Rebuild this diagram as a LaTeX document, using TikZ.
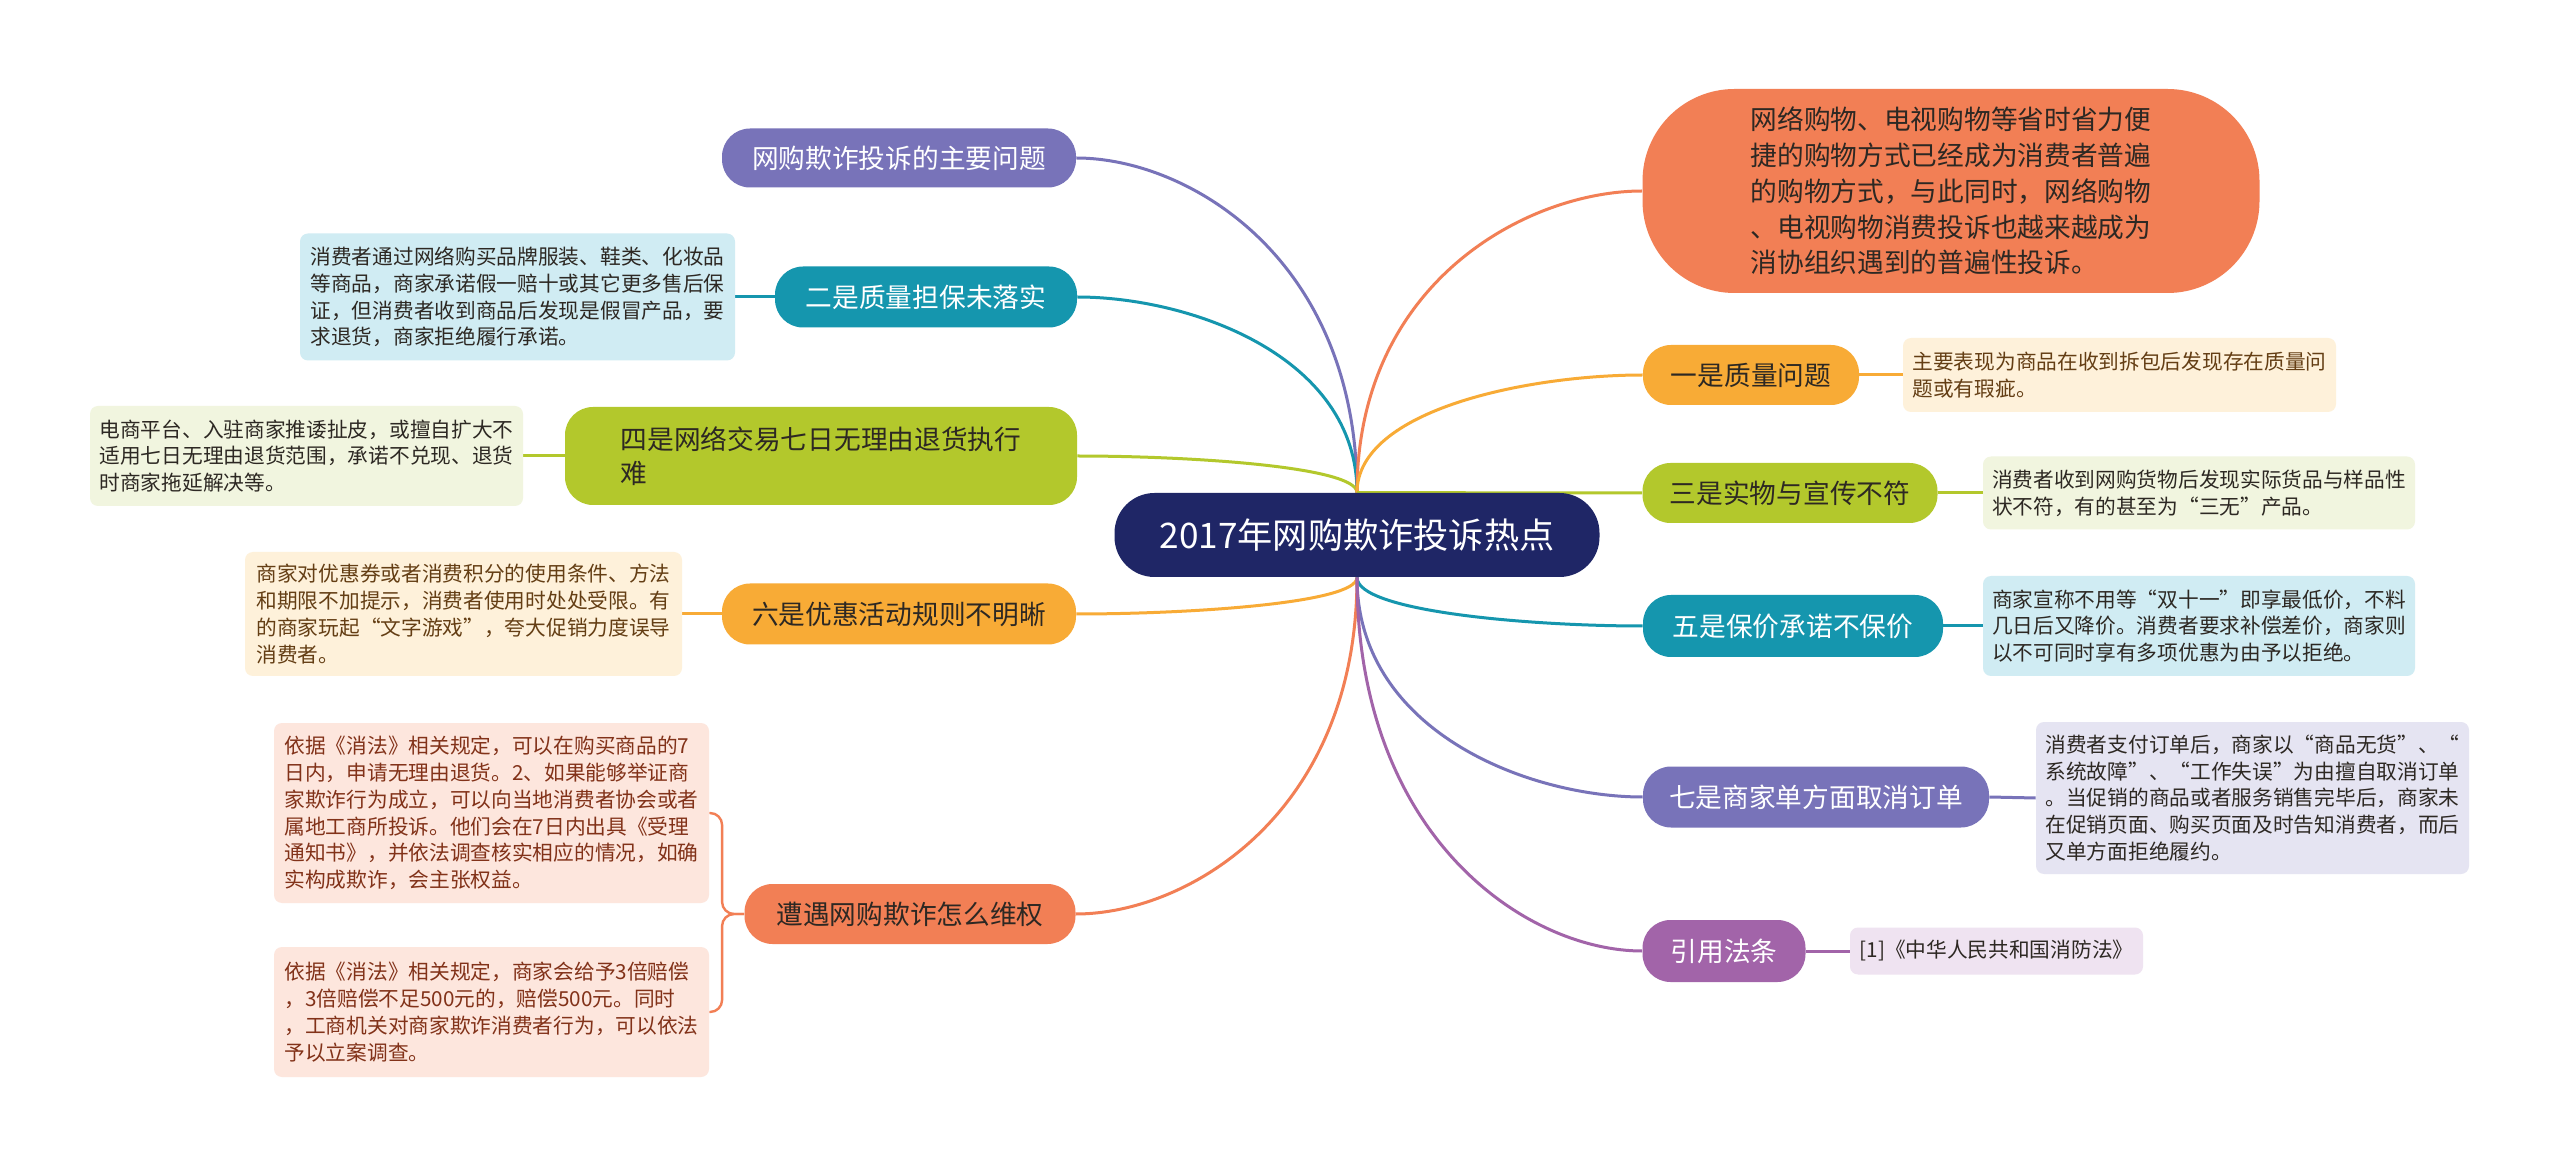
\documentclass[tikz,border=0pt]{standalone}
\usepackage{fontspec}
\setmainfont{Noto Sans CJK SC}
\usetikzlibrary{backgrounds}
\definecolor{navy}{RGB}{31,38,102}
\definecolor{cpurple}{RGB}{120,115,185}
\definecolor{cteal}{RGB}{21,150,174}
\definecolor{clime}{RGB}{179,200,44}
\definecolor{corange}{RGB}{248,171,54}
\definecolor{ccoral}{RGB}{242,127,85}
\definecolor{cviolet}{RGB}{162,100,169}
\definecolor{tteal}{RGB}{208,236,243}
\definecolor{tlime}{RGB}{241,245,223}
\definecolor{torange}{RGB}{254,241,218}
\definecolor{tcoral}{RGB}{253,230,221}
\definecolor{tpurple}{RGB}{229,228,242}
\definecolor{tviolet}{RGB}{239,227,241}
\definecolor{darktxt}{RGB}{45,40,35}
\definecolor{browntxt}{RGB}{100,62,20}
\definecolor{redtxt}{RGB}{130,50,25}
\begin{document}
\begin{tikzpicture}[x=0.5pt,y=-0.5pt,
  sz/.style 2 args={minimum width=#1*0.5pt, minimum height=#2*0.5pt},
  branch/.style={inner sep=0pt, rounded corners=14pt, font=\fontsize{13.35}{16.7}\selectfont, align=left},
  detail/.style={inner sep=0pt, rounded corners=4pt, font=\fontsize{10.35}{13.4}\selectfont, align=left},
  link/.style={line width=1.5pt},
]
\useasboundingbox (0,0) rectangle (2560,1165);

% central
\node[fill=navy, text=white, inner sep=0pt, rounded corners=20pt, sz={485}{84}, font=\fontsize{17.6}{20}\selectfont] (c) at (1357,535) {2017年网购欺诈投诉热点};

% left branches
\node[branch, fill=cpurple, text=white, sz={354}{59}] (n1) at (899,158) {网购欺诈投诉的主要问题};
\node[branch, fill=cteal, text=white, sz={302}{61}] (n2) at (926,297) {二是质量担保未落实};
\node[branch, fill=clime, text=darktxt, sz={512}{98}] (n4) at (821,456) {四是网络交易七日无理由退货执行\\难};
\node[branch, fill=corange, text=darktxt, sz={354}{61}] (n6) at (899,614) {六是优惠活动规则不明晰};
\node[branch, fill=ccoral, text=darktxt, sz={331}{60}] (n9) at (910,914) {遭遇网购欺诈怎么维权};

% right branches
\node[branch, fill=ccoral, text=darktxt, rounded corners=46pt, sz={617}{204}, font=\fontsize{13.35}{17.9}\selectfont] (big) at (1951,191) {网络购物、电视购物等省时省力便\\捷的购物方式已经成为消费者普遍\\的购物方式，与此同时，网络购物\\、电视购物消费投诉也越来越成为\\消协组织遇到的普遍性投诉。};
\node[branch, fill=corange, text=darktxt, sz={216}{60}] (r1) at (1751,375) {一是质量问题};
\node[branch, fill=clime, text=darktxt, sz={295}{60}] (r3) at (1790,493) {三是实物与宣传不符};
\node[branch, fill=cteal, text=white, sz={300}{62}] (r5) at (1793,626) {五是保价承诺不保价};
\node[branch, fill=cpurple, text=white, sz={346}{61}] (r7) at (1816,797) {七是商家单方面取消订单};
\node[branch, fill=cviolet, text=white, sz={163}{62}] (r8) at (1724,951) {引用法条};

% left details
\node[detail, fill=tteal, text=darktxt, sz={435}{127}] (d2) at (517.5,297) {消费者通过网络购买品牌服装、鞋类、化妆品\\等商品，商家承诺假一赔十或其它更多售后保\\证，但消费者收到商品后发现是假冒产品，要\\求退货，商家拒绝履行承诺。};
\node[detail, fill=tlime, text=darktxt, sz={433}{100}] (d4) at (306.5,456) {电商平台、入驻商家推诿扯皮，或擅自扩大不\\适用七日无理由退货范围，承诺不兑现、退货\\时商家拖延解决等。};
\node[detail, fill=torange, text=browntxt, sz={437}{124}] (d6) at (463.5,614) {商家对优惠券或者消费积分的使用条件、方法\\和期限不加提示，消费者使用时处处受限。有\\的商家玩起“文字游戏”，夸大促销力度误导\\消费者。};
\node[detail, fill=tcoral, text=redtxt, sz={435}{180}] (d9a) at (491.5,813) {依据《消法》相关规定，可以在购买商品的7\\日内，申请无理由退货。2、如果能够举证商\\家欺诈行为成立，可以向当地消费者协会或者\\属地工商所投诉。他们会在7日内出具《受理\\通知书》，并依法调查核实相应的情况，如确\\实构成欺诈，会主张权益。};
\node[detail, fill=tcoral, text=redtxt, sz={435}{130}] (d9b) at (491.5,1012) {依据《消法》相关规定，商家会给予3倍赔偿\\，3倍赔偿不足500元的，赔偿500元。同时\\，工商机关对商家欺诈消费者行为，可以依法\\予以立案调查。};

% right details
\node[detail, fill=torange, text=browntxt, sz={433}{74}] (dr1) at (2119.5,375) {主要表现为商品在收到拆包后发现存在质量问\\题或有瑕疵。};
\node[detail, fill=tlime, text=darktxt, sz={432}{73}] (dr3) at (2199,493) {消费者收到网购货物后发现实际货品与样品性\\状不符，有的甚至为“三无”产品。};
\node[detail, fill=tteal, text=darktxt, sz={432}{100}] (dr5) at (2199,626) {商家宣称不用等“双十一”即享最低价，不料\\几日后又降价。消费者要求补偿差价，商家则\\以不可同时享有多项优惠为由予以拒绝。};
\node[detail, fill=tpurple, text=darktxt, sz={433}{152}] (dr7) at (2252.5,798) {消费者支付订单后，商家以“商品无货”、“\\系统故障”、“工作失误”为由擅自取消订单\\。当促销的商品或者服务销售完毕后，商家未\\在促销页面、购买页面及时告知消费者，而后\\又单方面拒绝履约。};
\node[detail, fill=tviolet, text=darktxt, sz={293}{47}] (dr8) at (1996.5,951) {[1]《中华人民共和国消防法》};

\begin{scope}[on background layer]
\fill[white] (0,0) rectangle (2560,1165);
% central to branches
\draw[link, cpurple] (c.north) .. controls +(0,-234) and +(112,0) .. (n1.east);
\draw[link, cteal] (c.north) .. controls +(0,-137) and +(112,0) .. (n2.east);
\draw[link, clime] (c.north) .. controls +(0,-26) and +(112,0) .. (n4.east);
\draw[link, corange] (c.south) .. controls +(0,26) and +(112,0) .. (n6.east);
\draw[link, ccoral] (c.south) .. controls +(0,236) and +(112,0) .. (n9.east);
\draw[link, ccoral] (c.north) .. controls +(0,-211) and +(-114,0) .. (big.west);
\draw[link, corange] (c.north) .. controls +(0,-83) and +(-114,0) .. (r1.west);
\draw[link, clime] (c.north) -- (r3.west);
\draw[link, cteal] (c.south) .. controls +(0,34) and +(-114,0) .. (r5.west);
\draw[link, cpurple] (c.south) .. controls +(0,154) and +(-114,0) .. (r7.west);
\draw[link, cviolet] (c.south) .. controls +(0,262) and +(-114,0) .. (r8.west);
% branch to details
\draw[link, cteal] (n2.west) -- (d2.east);
\draw[link, clime] (n4.west) -- (d4.east);
\draw[link, corange] (n6.west) -- (d6.east);
\draw[link, corange] (r1.east) -- (dr1.west);
\draw[link, clime] (r3.east) -- (dr3.west);
\draw[link, cteal] (r5.east) -- (dr5.west);
\draw[link, cpurple] (r7.east) -- (dr7.west);
\draw[link, cviolet] (r8.east) -- (dr8.west);
\draw[ccoral, line width=1.2pt, rounded corners=6pt] (n9.west) -- ++(-22,0) |- (d9a.east);
\draw[ccoral, line width=1.2pt, rounded corners=6pt] (n9.west) -- ++(-22,0) |- (d9b.east);
\end{scope}
\end{tikzpicture}
\end{document}
